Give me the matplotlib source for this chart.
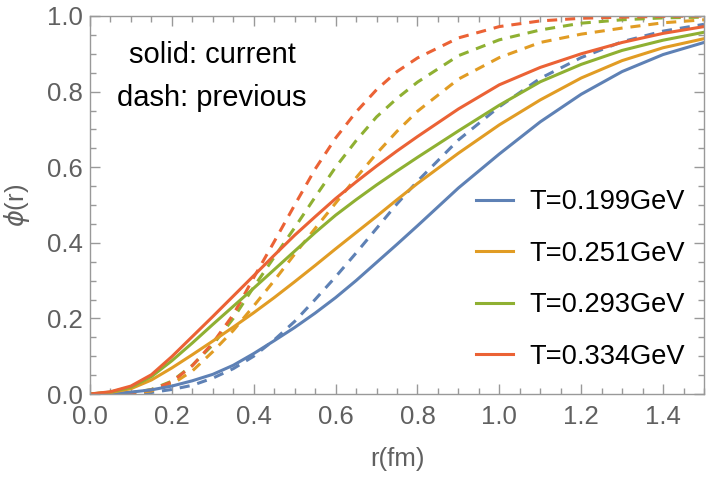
import numpy as np
import matplotlib
matplotlib.use("Agg")
import matplotlib.pyplot as plt
from matplotlib.ticker import MultipleLocator

plt.rcParams['font.family'] = ['Liberation Sans', 'DejaVu Sans']
plt.rcParams['mathtext.fontset'] = 'dejavusans'

# r grid (fm)
r = [0, .05, .1, .15, .2, .25, .3, .35, .4, .45, .5, .55, .6, .65, .7, .75, .8,
     .9, 1.0, 1.1, 1.2, 1.3, 1.4, 1.5]

# current (solid)
blue_cur = [0, .001, .005, .011, .021, .035, .052, .076, .107, .141, .176, .214, .255, .30,
            .348, .396, .445, .545, .635, .72, .793, .853, .898, .93]
orange_cur = [0, .004, .014, .037, .069, .104, .14, .177, .215, .255, .297, .34, .384, .427,
              .47, .514, .557, .637, .712, .778, .836, .882, .916, .94]
green_cur = [0, .005, .018, .046, .088, .135, .184, .232, .28, .329, .378, .427, .473, .514,
             .553, .59, .626, .696, .764, .826, .872, .909, .936, .957]
red_cur = [0, .006, .021, .051, .099, .152, .205, .259, .313, .367, .42, .469, .517, .561,
           .603, .643, .681, .754, .818, .864, .9, .93, .954, .972]

# previous (dashed)
blue_prev = [0, 0, .001, .004, .012, .023, .042, .067, .1, .143, .192, .25, .31, .373,
             .438, .503, .563, .672, .76, .835, .89, .932, .96, .978]
orange_prev = [0, 0, .002, .008, .026, .061, .112, .168, .233, .30, .37, .438, .505, .572,
               .636, .695, .748, .833, .89, .93, .952, .968, .982, .99]
green_prev = [0, 0, .003, .012, .034, .076, .13, .2, .283, .362, .44, .521, .6, .67,
              .733, .782, .825, .895, .937, .963, .981, .99, .995, .997]
red_prev = [0, 0, .003, .011, .032, .075, .135, .21, .308, .403, .50, .595, .677, .746,
            .805, .853, .889, .942, .972, .987, .994, .997, .999, 1.0]

labels = ['T=0.199GeV', 'T=0.251GeV', 'T=0.293GeV', 'T=0.334GeV']
colors = ['#5E81B5', '#E19C24', '#8FB032', '#EB6235']
cur = [blue_cur, orange_cur, green_cur, red_cur]
prev = [blue_prev, orange_prev, green_prev, red_prev]

gray = '#606060'
fs = 18.5
lw = 2.2

fig = plt.figure(figsize=(7.06, 4.82), dpi=100)
ax = fig.add_axes([90/706, 1-394/482, 614/706, 378/482])

for c, y in zip(colors, prev):
    ax.plot(r, y, color=c, lw=lw, dashes=(3.3, 2.6), solid_capstyle='butt')
for c, y, lab in zip(colors, cur, labels):
    ax.plot(r, y, color=c, lw=lw, label=lab)

ax.set_xlim(0, 1.5)
ax.set_ylim(0, 1.0)
ax.xaxis.set_major_locator(MultipleLocator(0.2))
ax.xaxis.set_minor_locator(MultipleLocator(0.05))
ax.yaxis.set_major_locator(MultipleLocator(0.2))
ax.yaxis.set_minor_locator(MultipleLocator(0.05))
ax.xaxis.set_major_formatter(lambda v, p: f'{v:.1f}')
ax.yaxis.set_major_formatter(lambda v, p: f'{v:.1f}')
ax.tick_params(which='both', direction='in', top=True, right=True, color='#999999',
               labelcolor=gray, labelsize=fs, width=1)
ax.tick_params(which='major', length=7)
ax.tick_params(which='minor', length=4)
ax.tick_params(axis='x', which='major', pad=8)
ax.tick_params(axis='y', which='major', pad=5)
for s in ax.spines.values():
    s.set_color('#999999')
    s.set_linewidth(1)

ax.set_xlabel('r(fm)', fontsize=fs, color=gray, labelpad=13)
ax.set_ylabel(r'$\phi$(r)', fontsize=fs, color=gray, labelpad=11)

ax.text(0.199, 0.896, 'solid: current', transform=ax.transAxes, ha='center', va='center',
        fontsize=21, color='black')
ax.text(0.199, 0.784, 'dash: previous', transform=ax.transAxes, ha='center', va='center',
        fontsize=21, color='black')

ax.legend(loc='center left', bbox_to_anchor=(0.629, 0.303), frameon=False, fontsize=19.6,
          borderpad=0, borderaxespad=0, handlelength=1.36, handletextpad=0.59,
          labelspacing=0.94)

fig.savefig('out.png', dpi=100)
